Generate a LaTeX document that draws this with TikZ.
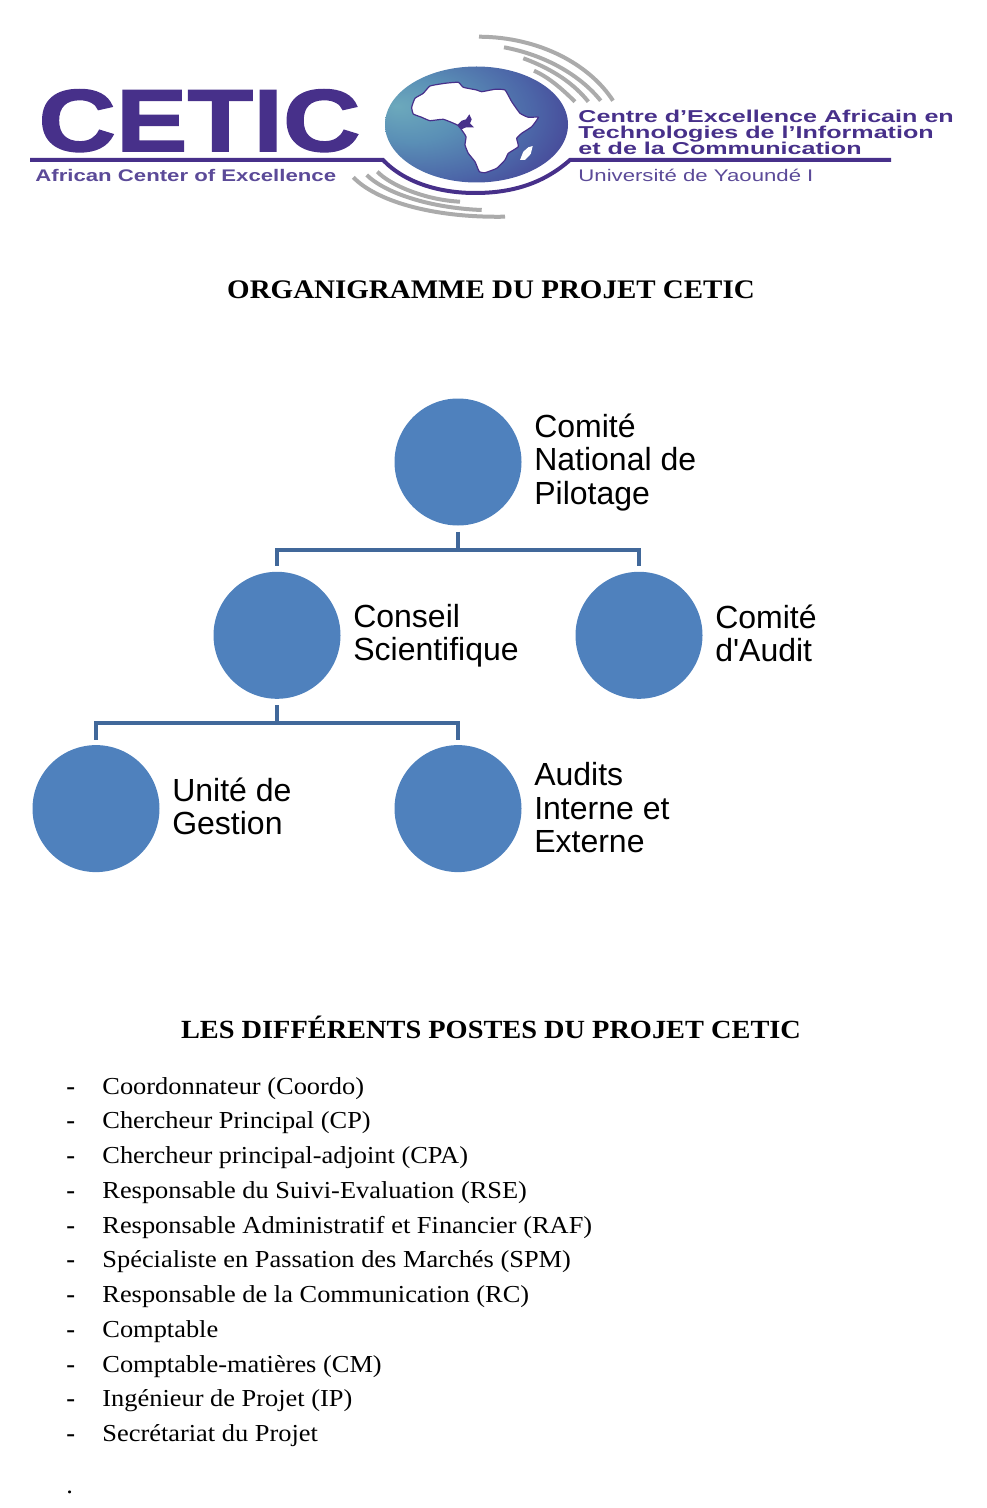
\documentclass[tikz,border=0pt]{standalone}
\usepackage{fontspec}
\setmainfont{Liberation Sans}
\newfontfamily\orgfont{Liberation Sans}
\newfontfamily\postefont[FakeStretch=1.082]{Liberation Serif}
\newfontfamily\logofont[FakeStretch=1.22,FakeBold=1.8]{Liberation Sans}
\newfontfamily\logoline[FakeStretch=1.46]{Liberation Sans}
\newfontfamily\logosmall[FakeStretch=1.32]{Liberation Sans}
\usetikzlibrary{positioning}
\definecolor{cetic}{HTML}{47308A}
\definecolor{ceticsoft}{HTML}{5B4A98}
\definecolor{arcgrey}{HTML}{ABABAB}
\definecolor{dotblue}{HTML}{4F81BD}
\definecolor{linkblue}{HTML}{41689A}
\definecolor{globea}{HTML}{6CA9BC}
\definecolor{globeb}{HTML}{5A8FB6}
\definecolor{globec}{HTML}{4C66A8}
\definecolor{globed}{HTML}{43308C}
\pgfdeclareradialshading{globeshade}{\pgfpoint{-22bp}{8bp}}{
  color(0bp)=(globea);
  color(14bp)=(globeb);
  color(29bp)=(globec);
  color(46bp)=(globed);
  color(75bp)=(globed)}
\tikzset{
  orgdot/.style={circle,fill=dotblue,draw=none,minimum size=63.5pt,inner sep=0pt},
  orglabel/.style={anchor=west,align=left,inner sep=0pt,font=\orgfont\fontsize{16}{16.75}\selectfont},
  link/.style={draw=linkblue,line width=2pt},
  arcline/.style={draw=arcgrey,line width=2pt},
  title/.style={anchor=base,inner sep=0pt,font=\postefont\bfseries\fontsize{13.4}{16}\selectfont},
  poste/.style={anchor=base west,inner sep=0pt,font=\postefont\fontsize{12.2}{14}\selectfont},
  logotext/.style={anchor=base west,inner sep=0pt,text=cetic},
}
\begin{document}
\begin{tikzpicture}[x=0.5pt,y=-0.5pt]
\useasboundingbox (0,0) rectangle (986,1508);

% logo
\path[shading=globeshade] (476.5,124.5) ellipse (91.5 and 58);
\fill[white,draw=cetic,line width=.6pt] plot[smooth cycle,tension=.25] coordinates {
  (411.7,107.3) (415,98.3) (423.3,93.3) (430,86) (445,83.3) (458.3,82.3) (463.3,87.3)
  (476.7,90) (481.7,91.7) (495,89.3) (505,90) (511.7,101.7) (520,113.3) (528.3,117.3)
  (538.3,117.3) (531.7,126.7) (521.7,133.3) (516.7,138.3) (518.3,146.7) (508.3,153.3)
  (505,160) (496.7,168.3) (485,172.7) (479.3,171.7) (475,161.7) (468.3,153.3) (465,145)
  (466,136.7) (461.7,130) (457.3,125) (443.3,119.3) (430,120.7) (421.7,117.3) (413.3,114)};
\fill[cetic] (469.3,114.3) -- (471.7,119.3) -- (470,123.3) -- (474,127.3) -- (466,127.3)
  -- (461.7,129.3) -- (457.3,125) -- (461.7,120.7) -- (466,119.3) -- cycle;
\fill[white] (532.7,146) -- (530.7,154) -- (525,160) -- (520,160) -- (523.3,151.7) -- (528.3,147.3) -- cycle;
\draw[cetic,line width=2pt] (30,160) -- (383,160) .. controls (405,183) and (440,193) .. (475,193)
  .. controls (515,193) and (545,182) .. (570,160) -- (891,160);
\foreach \sx/\sy/\cxa/\cya/\cxb/\cyb/\ex/\ey in {
  479/36.7/540/37/590/65/613/100.7, 504/47.3/545/55/580/75/600.7/100.7,
  523.3/58.3/555/70/575/85/588.3/101.7, 534/70.7/550/78/563/90/575/101.7,
  353.3/177.3/375/200/430/218/505/216.7, 366.7/175/385/193/430/208/481.7/210,
  377.3/171.7/390/185/425/200/460/201.7}
  \draw[arcline] (\sx,\sy) .. controls (\cxa,\cya) and (\cxb,\cyb) .. (\ex,\ey);

\node[logotext,font=\logofont\bfseries\fontsize{44}{44}\selectfont](logoname) at (38,151){CETIC};
\node[logotext,text=ceticsoft,font=\logosmall\bfseries\fontsize{8.4}{10}\selectfont](logoen) at (35,181.5){African Center of Excellence};
\node[logotext,font=\logoline\bfseries\fontsize{8.6}{10}\selectfont](logofr1) at (578,122.5){Centre d’Excellence Africain en};
\node[logotext,font=\logoline\bfseries\fontsize{8.6}{10}\selectfont](logofr2) at (578,138.5){Technologies de l’Information};
\node[logotext,font=\logoline\bfseries\fontsize{8.6}{10}\selectfont](logofr3) at (578,155){et de la Communication};
\node[logotext,text=ceticsoft,font=\logosmall\fontsize{8.4}{10}\selectfont](logouni) at (578,181.5){Université de Yaoundé I};

\node[title](title1) at (491,298.5){ORGANIGRAMME DU PROJET CETIC};

% the chart
\node[orgdot](root) at (458,462){};
\node[orgdot,below=22.75pt of root,xshift=-90.5pt](c1){};
\node[orgdot,below=22.75pt of root,xshift=90.5pt](c2){};
\node[orgdot,below=22.75pt of c1,xshift=-90.5pt](c11){};
\node[orgdot,below=22.75pt of c1,xshift=90.5pt](c12){};

\node[orglabel,right=6pt of root,yshift=-.25pt](lroot){Comité\\National de\\Pilotage};
\node[orglabel,right=6pt of c1,yshift=-.25pt](lc1){Conseil\\Scientifique};
\node[orglabel,right=6pt of c2,yshift=1pt](lc2){Comité\\d'Audit};
\node[orglabel,right=6pt of c11,yshift=1pt](lc11){Unité de\\Gestion};
\node[orglabel,right=6pt of c12,yshift=.5pt](lc12){Audits\\Interne et\\Externe};

% lines between the levels
\draw[link] ([yshift=-3pt]root.south) -- ++(0,-9pt) -| ([yshift=2.5pt]c1.north);
\draw[link] ([yshift=-3pt]root.south) -- ++(0,-9pt) -| ([yshift=2.5pt]c2.north);
\draw[link] ([yshift=-3pt]c1.south) -- ++(0,-9pt) -| ([yshift=2.5pt]c11.north);
\draw[link] ([yshift=-3pt]c1.south) -- ++(0,-9pt) -| ([yshift=2.5pt]c12.north);

\node[title,font=\postefont\bfseries\fontsize{13.1}{16}\selectfont](title2) at (491,1038){LES DIFFÉRENTS POSTES DU PROJET CETIC};

% the list
\foreach \value [count=\i from 0] in {Coordonnateur (Coordo),Chercheur Principal (CP),
  Chercheur principal-adjoint (CPA),Responsable du Suivi-Evaluation (RSE),
  Responsable Administratif et Financier (RAF),Spécialiste en Passation des Marchés (SPM),
  Responsable de la Communication (RC),Comptable,Comptable-matières (CM),
  Ingénieur de Projet (IP),Secrétariat du Projet}{
  \node[poste,font=\postefont\bfseries\fontsize{12.2}{14}\selectfont](dash\i) at (66,1094+34.75*\i){-};
  \node[poste](post\i) at (102,1094+34.75*\i){\value};
}
\node[poste](enddot) at (66,1493){.};
\end{tikzpicture}
\end{document}
